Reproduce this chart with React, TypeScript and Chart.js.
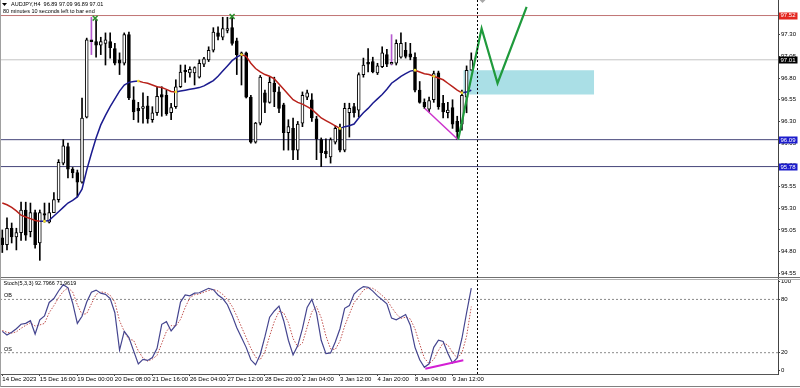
import React, { useEffect, useRef } from "react";
import { Chart, registerables } from "chart.js";

Chart.register(...registerables);

// ---------------- data ----------------
const OPEN = [94.96, 94.88, 95.07, 94.97, 95.02, 95.28, 95.03, 95.25, 94.90, 95.24,
  95.14, 95.25, 95.40, 95.82, 96.01, 95.75, 95.71, 95.60, 96.35, 97.24,
  97.22, 97.18, 97.20, 97.22, 97.14, 97.01, 96.97, 97.30, 96.55, 96.45,
  96.45, 96.48, 96.32, 96.40, 96.61, 96.60, 96.40, 96.47, 96.70, 96.89,
  96.86, 96.86, 96.81, 96.96, 97.01, 97.12, 97.32, 97.27, 97.35, 97.38,
  97.23, 97.09, 97.09, 96.58, 96.06, 96.28, 96.63, 96.52, 96.74, 96.64,
  96.49, 96.17, 96.22, 95.97, 96.28, 96.58, 96.55, 96.33, 96.09, 95.96,
  95.89, 96.06, 96.22, 95.97, 96.40, 96.47, 96.43, 96.84, 96.98, 96.99,
  96.86, 96.93, 97.07, 96.96, 96.97, 97.04, 97.12, 97.08, 97.04, 96.66,
  96.52, 96.44, 96.55, 96.86, 96.51, 96.40, 96.46, 96.30, 96.27, 96.58,
  96.89];
const HIGH = [95.05, 95.19, 95.13, 95.07, 95.37, 95.37, 95.36, 95.28, 95.28, 95.36,
  95.36, 95.48, 95.86, 96.09, 96.05, 95.77, 95.74, 96.57, 97.26, 97.50,
  97.47, 97.27, 97.32, 97.32, 97.20, 97.09, 97.32, 97.33, 96.70, 96.52,
  96.63, 96.59, 96.47, 96.70, 96.70, 96.66, 96.51, 96.78, 96.95, 96.95,
  96.93, 96.93, 97.01, 97.04, 97.16, 97.38, 97.39, 97.50, 97.50, 97.52,
  97.26, 97.10, 97.10, 96.60, 96.29, 96.83, 96.66, 96.81, 96.81, 96.70,
  96.51, 96.32, 96.34, 96.30, 96.64, 96.66, 96.62, 96.36, 96.11, 96.10,
  96.11, 96.25, 96.27, 96.51, 96.51, 96.51, 96.86, 97.03, 97.14, 97.04,
  96.97, 97.16, 97.13, 97.30, 97.24, 97.32, 97.21, 97.20, 97.09, 96.76,
  96.56, 96.58, 96.88, 96.88, 96.60, 96.52, 96.55, 96.36, 96.66, 96.94,
  97.09];
const LOW = [94.79, 94.82, 94.90, 94.82, 94.93, 94.93, 94.97, 94.84, 94.70, 95.14,
  95.13, 95.25, 95.37, 95.80, 95.65, 95.65, 95.43, 95.59, 96.34, 97.07,
  97.04, 97.07, 96.95, 97.03, 96.95, 96.84, 96.95, 96.55, 96.32, 96.29,
  96.28, 96.28, 96.29, 96.37, 96.36, 96.37, 96.32, 96.45, 96.69, 96.75,
  96.81, 96.72, 96.80, 96.93, 96.99, 97.10, 97.24, 97.24, 97.32, 97.18,
  96.84, 96.72, 96.57, 96.05, 96.05, 96.26, 96.40, 96.51, 96.47, 96.40,
  95.97, 95.97, 95.86, 95.86, 96.24, 96.55, 96.30, 95.86, 95.78, 95.88,
  95.82, 96.04, 95.95, 95.95, 96.12, 96.35, 96.35, 96.81, 96.87, 96.86,
  96.84, 96.92, 96.93, 96.95, 96.95, 97.03, 97.03, 97.01, 96.64, 96.51,
  96.45, 96.41, 96.52, 96.44, 96.34, 96.34, 96.22, 96.09, 96.20, 96.40,
  96.89];
const CLOSE = [94.88, 95.07, 94.97, 95.02, 95.28, 94.99, 95.25, 94.88, 95.25, 95.22,
  95.25, 95.40, 95.83, 96.02, 95.75, 95.71, 95.60, 96.34, 97.24, 97.22,
  97.18, 97.22, 97.24, 97.15, 96.97, 96.97, 97.30, 96.57, 96.41, 96.42,
  96.47, 96.33, 96.40, 96.59, 96.58, 96.39, 96.46, 96.70, 96.87, 96.87,
  96.90, 96.92, 96.97, 97.02, 97.12, 97.33, 97.28, 97.37, 97.37, 97.20,
  97.07, 97.07, 96.58, 96.06, 96.28, 96.81, 96.52, 96.75, 96.64, 96.45,
  96.17, 96.24, 95.97, 96.27, 96.60, 96.63, 96.34, 96.10, 95.94, 95.93,
  96.09, 96.22, 95.97, 96.45, 96.45, 96.40, 96.84, 96.95, 96.96, 96.87,
  96.94, 97.09, 96.96, 96.98, 97.20, 97.20, 97.05, 97.04, 96.66, 96.52,
  96.47, 96.54, 96.85, 96.47, 96.41, 96.43, 96.27, 96.18, 96.60, 96.89,
  97.01];

const TREND_MA = [95.36, 95.34, 95.31, 95.27, 95.22, 95.20, 95.18, 95.16, 95.15, 95.15,
  95.16, 95.21, 95.26, 95.31, 95.36, 95.39, 95.43, 95.52, 95.74, 95.93,
  96.11, 96.26, 96.37, 96.47, 96.56, 96.65, 96.72, 96.75, 96.76, 96.765,
  96.75, 96.74, 96.72, 96.70, 96.69, 96.67, 96.645, 96.64, 96.65, 96.66,
  96.67, 96.68, 96.69, 96.71, 96.74, 96.77, 96.82, 96.88, 96.94, 97.00,
  97.04, 97.07, 97.05, 96.97, 96.91, 96.87, 96.84, 96.82, 96.79, 96.73,
  96.67, 96.61, 96.55, 96.52, 96.50, 96.47, 96.44, 96.39, 96.34, 96.31,
  96.28, 96.25, 96.22, 96.24, 96.25, 96.27, 96.34, 96.40, 96.45, 96.51,
  96.56, 96.61, 96.67, 96.74, 96.78, 96.82, 96.85, 96.88, 96.89, 96.87,
  96.85, 96.84, 96.82, 96.80, 96.78, 96.74, 96.70, 96.66, 96.63, 96.64,
  96.66];
const MA_TURN_BARS = [9, 29, 37, 51, 72, 88, 92, 98];

const STOCH_MAIN = [44, 40, 43, 47, 52, 53, 56, 41, 57, 61.5,
  76.6, 81, 89.5, 96.6, 93, 76, 53, 61, 77, 88,
  90.5, 87, 85.7, 81, 65, 23, 44, 37, 22, 7.3,
  12.5, 11.3, 14.5, 25, 52, 55, 44.5, 51, 77, 85,
  84, 87, 87.5, 90, 92.5, 91, 85, 81, 74, 62,
  48, 37, 26, 12, 6.5, 18, 38, 60, 67, 72.5,
  56, 34, 17.5, 28, 47, 71, 80, 64.6, 34, 19,
  19.8, 32, 47, 70, 73, 86, 91, 94.5, 93.7, 89.4,
  84, 79.7, 75, 59, 57, 60, 63, 51, 26, 12,
  3.5, 7.5, 26, 34, 32.7, 19.5, 8.5, 14, 36, 65,
  92.8];
const STOCH_SIGNAL = [45, 43, 42, 43.5, 47.5, 50.8, 53.7, 50, 51.3, 53,
  65, 73, 82, 89, 93, 88.5, 74, 63, 64, 75,
  85.5, 88.5, 87.7, 84.6, 77, 56, 44, 35, 34, 22,
  14, 10.4, 12.8, 17, 30.5, 44, 50.5, 50, 57.5, 71,
  82, 85.3, 86.2, 88.2, 90, 91.2, 89.5, 85.7, 80, 72.3,
  61.3, 49, 37, 25, 15, 12.2, 21, 38.7, 55, 66.5,
  65, 54, 36, 26.5, 31, 48.7, 66, 71.9, 59.5, 39,
  24.3, 23.6, 33, 50, 63.3, 76.3, 83.3, 90.5, 93, 92.5,
  89, 84.4, 79.6, 71.2, 63.7, 58.7, 60, 58, 46.7, 29.7,
  13.8, 7.7, 12.3, 22.5, 31, 28.7, 20.2, 14, 19.5, 38.5,
  72];

const X_TICK_BARS = [0, 8, 16, 24, 32, 40, 48, 56, 64, 72, 80, 88, 96];
const X_TICK_LABELS = ["14 Dec 2023", "15 Dec 16:00", "19 Dec 00:00", "20 Dec 08:00",
  "21 Dec 16:00", "26 Dec 04:00", "27 Dec 12:00", "28 Dec 20:00", "2 Jan 04:00",
  "3 Jan 12:00", "4 Jan 20:00", "8 Jan 04:00", "9 Jan 12:00"];
const PRICE_TICKS = [97.30, 97.05, 96.80, 96.55, 96.30, 96.05, 95.80, 95.55, 95.30, 95.05, 94.80, 94.55];
const STOCH_TICKS = [100, 80, 20, 0];
const STOCH_LEVELS = [80, 20];

const RESISTANCE = 97.52;
const BID = 97.01;
const SUPPORTS = [96.09, 95.78];
const ZIGZAG_BARS = [97.2, 102.2, 105.6, 111.8];
const ZIGZAG_PRICES = [96.09, 97.37, 96.74, 97.62];
const DIV_PRICE_BARS = [90.1, 97.2];
const DIV_PRICE_VALUES = [96.45, 96.09];
const DIV_STOCH_BARS = [90.2, 98.3];
const DIV_STOCH_VALUES = [2, 11.5];
const ZONE_BARS = [98.3, 126.2];
const ZONE_PRICES = [96.89, 96.61];
const FRACTAL_BARS = [19.8, 49];
const FRACTAL_PRICES = [97.49, 97.51];
const VIOLET_BARS = [19, 83];
const CURRENT_BAR_MARK = 101.2;

const SYMBOL_TITLE = "AUDJPY,H4  96.89 97.09 96.89 97.01";
const TIMER_TEXT = "80 minutes 10 seconds left to bar end";
const STOCH_TITLE = "Stoch(5,3,3) 92.7966 71.9619";

// scale ranges
const X_MIN = -0.49;
const X_MAX = 165.4;
const PRICE_MIN = 94.485;
const PRICE_MAX = 97.699;
const STOCH_MIN = -4;
const STOCH_MAX = 103;

const FONT = "'Liberation Sans', Arial, sans-serif";

export default function App() {
  const ref = useRef<HTMLCanvasElement>(null);

  useEffect(() => {
    document.body.style.margin = "0";
    const canvas = ref.current as HTMLCanvasElement;

    const bars = OPEN.map((_, i) => i);
    const hline = (v: number) => [{ x: X_MIN, y: v }, { x: X_MAX, y: v }];

    const overlay = {
      id: "overlay",
      afterDraw(chart: any) {
        const { ctx, scales } = chart;
        const x = scales.x, y = scales.y, y2 = scales.y2;
        ctx.save();
        // panel separators and frame
        ctx.fillStyle = "#707070";
        ctx.fillRect(0, Math.round(y.bottom) - 2, 800, 1);
        ctx.fillStyle = "#b0b0b0";
        ctx.fillRect(0, Math.round(y.bottom), 800, 1);
        ctx.fillStyle = "#808080";
        ctx.fillRect(0, 386, 800, 1);
        ctx.fillStyle = "#a0a0a0";
        ctx.fillRect(0, 0, 1, 387);

        // current bar dotted vertical
        const vx = Math.round(x.getPixelForValue(CURRENT_BAR_MARK)) + 0.5;
        ctx.strokeStyle = "#000";
        ctx.lineWidth = 1;
        ctx.setLineDash([2, 2]);
        ctx.beginPath();
        ctx.moveTo(vx, 0);
        ctx.lineTo(vx, y2.bottom);
        ctx.stroke();
        ctx.setLineDash([]);
        // chart shift marker
        ctx.fillStyle = "#a8a8a8";
        ctx.beginPath();
        ctx.moveTo(vx + 2, 0);
        ctx.lineTo(vx + 8, 0);
        ctx.lineTo(vx + 5, 3);
        ctx.closePath();
        ctx.fill();

        // titles
        ctx.fillStyle = "#000";
        ctx.beginPath();
        ctx.moveTo(2, 3);
        ctx.lineTo(7, 3);
        ctx.lineTo(4.5, 6);
        ctx.closePath();
        ctx.fill();
        ctx.font = `5.5px ${FONT}`;
        ctx.textBaseline = "middle";
        ctx.textAlign = "left";
        ctx.fillText(SYMBOL_TITLE, 11, 4.8);
        ctx.fillText(TIMER_TEXT, 3, 11.7);
        ctx.fillText(STOCH_TITLE, 3.5, y2.top + 4.5);
        ctx.fillText("OB", 4, y2.getPixelForValue(STOCH_LEVELS[0]) - 3.5);
        ctx.fillText("OS", 4, y2.getPixelForValue(STOCH_LEVELS[1]) - 3.5);

        // right price tags
        const tag = (value: number, bg: string) => {
          const py = y.getPixelForValue(value);
          ctx.fillStyle = bg;
          ctx.fillRect(x.right + 1, Math.round(py) - 3.5, 18.5, 7);
          ctx.fillStyle = "#fff";
          ctx.font = `6px ${FONT}`;
          ctx.fillText(value.toFixed(2), x.right + 2.5, py + 0.3);
        };
        tag(RESISTANCE, "#e3261f");
        tag(BID, "#000000");
        SUPPORTS.forEach((s) => tag(s, "#1c1ccc"));
        ctx.restore();
      },
    };

    const chart = new Chart(canvas, {
      type: "line",
      data: {
        datasets: [
          // zigzag projection
          {
            type: "line",
            data: ZIGZAG_BARS.map((b, i) => ({ x: b, y: ZIGZAG_PRICES[i] })),
            borderColor: "#1f9a3c",
            borderWidth: 2.2,
            pointRadius: 0,
            yAxisID: "y",
            order: 1,
          } as any,
          // price divergence
          {
            type: "line",
            data: DIV_PRICE_BARS.map((b, i) => ({ x: b, y: DIV_PRICE_VALUES[i] })),
            borderColor: "#cc33cc",
            borderWidth: 1.5,
            pointRadius: 0,
            yAxisID: "y",
            order: 2,
          },
          // stoch divergence
          {
            type: "line",
            data: DIV_STOCH_BARS.map((b, i) => ({ x: b, y: DIV_STOCH_VALUES[i] })),
            borderColor: "#d41fd4",
            borderWidth: 2,
            pointRadius: 0,
            yAxisID: "y2",
            order: 2,
          },
          // fractal marks
          {
            type: "line",
            data: FRACTAL_BARS.map((b, i) => ({ x: b, y: FRACTAL_PRICES[i] })),
            showLine: false,
            pointStyle: "crossRot",
            pointRadius: 3.5,
            pointBorderWidth: 1.5,
            pointBorderColor: "#2f8f2f",
            borderColor: "#2f8f2f",
            yAxisID: "y",
            order: 3,
          },
          // trend MA
          {
            type: "line",
            data: TREND_MA.map((v, i) => ({ x: i, y: v })),
            borderWidth: 1.5,
            borderColor: "#1b1b8f",
            segment: {
              borderColor: (c: any) => (c.p1.parsed.y >= c.p0.parsed.y ? "#1b1b8f" : "#b8221b"),
            },
            pointRadius: bars.map((i) => (MA_TURN_BARS.includes(i) ? 1.4 : 0)),
            pointBackgroundColor: "#f0de30",
            pointBorderWidth: 0,
            tension: 0,
            yAxisID: "y",
            order: 5,
          } as any,
          // stoch main
          {
            type: "line",
            data: STOCH_MAIN.map((v, i) => ({ x: i, y: v })),
            borderColor: "#45458f",
            borderWidth: 1.2,
            pointRadius: 0,
            yAxisID: "y2",
            order: 5,
          },
          // stoch signal
          {
            type: "line",
            data: STOCH_SIGNAL.map((v, i) => ({ x: i, y: v })),
            borderColor: "#c0504d",
            borderWidth: 1,
            borderDash: [1.5, 1.5],
            pointRadius: 0,
            yAxisID: "y2",
            order: 6,
          },
          // candle bodies
          {
            type: "bar",
            data: bars.map((i) => ({ x: i, y: [OPEN[i], CLOSE[i]] })),
            backgroundColor: bars.map((i) => (CLOSE[i] >= OPEN[i] ? "#ffffff" : "#000000")),
            borderColor: "#000000",
            borderWidth: 1,
            borderSkipped: false,
            barThickness: 3,
            minBarLength: 1,
            grouped: false,
            yAxisID: "y",
            order: 8,
          } as any,
          // candle wicks
          {
            type: "bar",
            data: bars.map((i) => ({ x: i, y: [LOW[i], HIGH[i]] })),
            backgroundColor: bars.map((i) => (VIOLET_BARS.includes(i) ? "#b65bd0" : "#000000")),
            barThickness: 1,
            grouped: false,
            yAxisID: "y",
            order: 9,
          } as any,
          // stoch levels
          ...STOCH_LEVELS.map((lv) => ({
            type: "line",
            data: hline(lv),
            borderColor: "#8a8a8a",
            borderWidth: 1,
            borderDash: [2, 2],
            pointRadius: 0,
            yAxisID: "y2",
            order: 12,
          })),
          // resistance / support / bid lines
          {
            type: "line",
            data: hline(RESISTANCE),
            borderColor: "#c07474",
            borderWidth: 1,
            pointRadius: 0,
            yAxisID: "y",
            order: 12,
          },
          ...SUPPORTS.map((s) => ({
            type: "line",
            data: hline(s),
            borderColor: "#45457a",
            borderWidth: 1,
            pointRadius: 0,
            yAxisID: "y",
            order: 12,
          })),
          {
            type: "line",
            data: hline(BID),
            borderColor: "#c4c4c4",
            borderWidth: 1,
            pointRadius: 0,
            yAxisID: "y",
            order: 13,
          },
          // demand zone
          {
            type: "line",
            data: ZONE_BARS.map((b) => ({ x: b, y: ZONE_PRICES[0] })),
            fill: { value: ZONE_PRICES[1] },
            backgroundColor: "#aadfe6",
            borderWidth: 0,
            borderColor: "rgba(0,0,0,0)",
            pointRadius: 0,
            yAxisID: "y",
            order: 14,
          } as any,
        ] as any,
      },
      options: {
        animation: false,
        responsive: false,
        maintainAspectRatio: false,
        layout: { padding: 0, autoPadding: false },
        plugins: { legend: { display: false }, tooltip: { enabled: false }, title: { display: false } },
        scales: {
          x: {
            type: "linear",
            position: "bottom",
            min: X_MIN,
            max: X_MAX,
            offset: false,
            afterBuildTicks: (s: any) => {
              s.ticks = X_TICK_BARS.map((v) => ({ value: v }));
            },
            afterFit: (s: any) => {
              s.height = 14;
              s.paddingLeft = 0;
              s.paddingRight = 0;
            },
            ticks: {
              autoSkip: false,
              maxRotation: 0,
              minRotation: 0,
              align: "start",
              padding: 0,
              color: "#000",
              font: { family: FONT, size: 6 },
              callback: (_v: any, i: number) => X_TICK_LABELS[i],
            },
            grid: { display: true, drawOnChartArea: false, drawTicks: true, tickLength: 2, color: "#444", offset: false },
            border: { display: true, color: "#555" },
          },
          y: {
            type: "linear",
            position: "right",
            stack: "panes",
            stackWeight: 279,
            min: PRICE_MIN,
            max: PRICE_MAX,
            afterBuildTicks: (s: any) => {
              s.ticks = PRICE_TICKS.map((v) => ({ value: v }));
            },
            afterFit: (s: any) => {
              s.width = 22;
              s.paddingTop = 0;
              s.paddingBottom = 0;
            },
            ticks: {
              autoSkip: false,
              padding: 1,
              color: "#000",
              font: { family: FONT, size: 6 },
              callback: (v: any) => Number(v).toFixed(2),
            },
            grid: { display: true, drawOnChartArea: false, drawTicks: true, tickLength: 2, color: "#444" },
            border: { display: true, color: "#444" },
          },
          y2: {
            type: "linear",
            position: "right",
            stack: "panes",
            stackWeight: 95,
            min: STOCH_MIN,
            max: STOCH_MAX,
            afterBuildTicks: (s: any) => {
              s.ticks = STOCH_TICKS.map((v) => ({ value: v }));
            },
            afterFit: (s: any) => {
              s.width = 22;
              s.paddingTop = 0;
              s.paddingBottom = 0;
            },
            ticks: {
              autoSkip: false,
              padding: 1,
              color: "#000",
              font: { family: FONT, size: 6 },
              callback: (v: any) => String(v),
            },
            grid: { display: true, drawOnChartArea: false, drawTicks: true, tickLength: 2, color: "#444" },
            border: { display: true, color: "#444" },
          },
        },
      } as any,
      plugins: [overlay],
    });

    return () => chart.destroy();
  }, []);

  return (
    <div style={{ width: 800, height: 388, background: "#ffffff" }}>
      <canvas ref={ref} width={800} height={388} style={{ display: "block" }} />
    </div>
  );
}
